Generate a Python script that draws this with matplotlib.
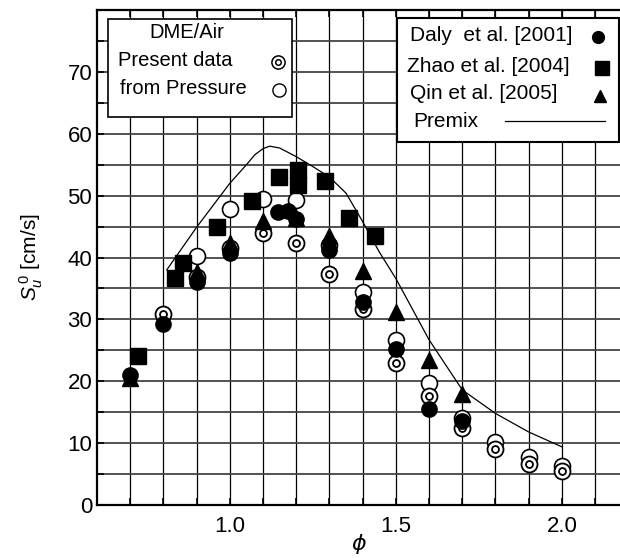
import matplotlib.pyplot as plt
from matplotlib.patches import Rectangle
from matplotlib.lines import Line2D

plt.rcParams['font.family'] = ['Liberation Sans', 'DejaVu Sans']
plt.rcParams['mathtext.fontset'] = 'custom'
plt.rcParams['mathtext.rm'] = 'Liberation Sans'
plt.rcParams['mathtext.it'] = 'Liberation Sans:italic'

# DME/Air, present data (double circle)
phi_present = [0.8, 0.9, 1.0, 1.1, 1.2, 1.3, 1.4, 1.5, 1.6, 1.7, 1.8, 1.9, 2.0]
su_present = [30.8, 36.9, 41.5, 44.0, 42.3, 37.4, 31.6, 22.9, 17.6, 12.4, 9.0, 6.6, 5.5]

# from pressure (open circle)
phi_pressure = [0.9, 1.0, 1.1, 1.2, 1.3, 1.4, 1.5, 1.6, 1.7, 1.8, 1.9, 2.0]
su_pressure = [40.3, 47.9, 49.5, 49.3, 42.0, 34.5, 26.7, 19.7, 14.1, 10.2, 7.7, 6.3]

# Daly et al. [2001]
phi_daly = [0.7, 0.8, 0.9, 1.0, 1.145, 1.175, 1.2, 1.3, 1.4, 1.5, 1.6, 1.7]
su_daly = [21.0, 29.3, 36.1, 40.7, 47.4, 47.5, 46.3, 41.2, 32.8, 25.2, 15.5, 13.5]

# Zhao et al. [2004]
phi_zhao = [0.722, 0.835, 0.858, 0.96, 1.066, 1.148, 1.204, 1.204, 1.287, 1.359, 1.437]
su_zhao = [24.1, 36.7, 39.1, 45.0, 49.1, 53.0, 54.1, 51.7, 52.3, 46.4, 43.5]

# Qin et al. [2005]
phi_qin = [0.7, 0.9, 1.0, 1.1, 1.2, 1.3, 1.4, 1.5, 1.6, 1.7]
su_qin = [20.5, 37.7, 42.3, 45.9, 46.4, 43.4, 37.8, 31.2, 23.4, 17.9]

# Premix calculation
phi_premix = [0.81, 0.9, 1.0, 1.05, 1.075, 1.1, 1.12, 1.15, 1.2, 1.25, 1.3, 1.35, 1.4,
              1.45, 1.5, 1.6, 1.7, 1.8, 1.9, 2.0]
su_premix = [38.0, 44.9, 52.0, 55.0, 56.6, 57.6, 58.0, 57.7, 56.3, 54.7, 53.0, 50.4, 45.8,
             40.9, 36.6, 26.7, 18.6, 14.8, 11.8, 9.4]

fig = plt.figure(figsize=(6.2, 5.58), dpi=100)
ax = fig.add_axes([0.1565, 0.095, 0.8435, 0.887])

ax.set_xlim(0.6, 2.175)
ax.set_ylim(0, 80)

# grid
for v in [0.7 + 0.1 * i for i in range(15)]:
    ax.axvline(v, color='black', lw=0.9, zorder=1)
for h in range(5, 80, 5):
    ax.axhline(h, color='#444444', lw=1.3, zorder=1)

ax.plot(phi_premix, su_premix, color='black', lw=0.9, zorder=2)

ax.plot(phi_pressure, su_pressure, 'o', ms=11.5, mfc='white', mec='black', mew=1.2, zorder=3)
ax.plot(phi_present, su_present, 'o', ms=11.5, mfc='white', mec='black', mew=1.3, zorder=3)
ax.plot(phi_present, su_present, 'o', ms=5.0, mfc='white', mec='black', mew=1.3, zorder=3)
ax.plot(phi_qin, su_qin, '^', ms=11.5, color='black', zorder=4)
ax.plot(phi_daly, su_daly, 'o', ms=11, color='black', zorder=5)
ax.plot(phi_zhao, su_zhao, 's', ms=12, color='black', zorder=6)

ax.set_xticks([1.0, 1.5, 2.0])
ax.set_xticklabels(['1.0', '1.5', '2.0'])
ax.set_xticks([0.7 + 0.1 * i for i in range(15)], minor=True)
ax.set_yticks(range(0, 80, 10))
ax.set_yticks(range(5, 80, 10), minor=True)
ax.tick_params(which='both', direction='in', top=True, right=False, length=5, width=1.2,
               labelsize=16)
ax.tick_params(axis='x', pad=8)

for s in ['left', 'bottom', 'top']:
    ax.spines[s].set_linewidth(1.6)
ax.spines['right'].set_visible(False)

ax.set_xlabel(r'$\phi$', fontsize=16, math_fontfamily='dejavusans', labelpad=-4)
ax.set_ylabel(r'$S_u^{\,\mathit{0}}$ [cm/s]', fontsize=15, labelpad=16)

# left legend box
tr = ax.transAxes
ax.add_patch(Rectangle((0.021, 0.784), 0.352, 0.198, transform=tr, facecolor='white',
                       edgecolor='black', lw=1.2, zorder=10))
ax.text(0.172, 0.954, 'DME/Air', transform=tr, ha='center', va='center', fontsize=14.5, zorder=11)
ax.text(0.040, 0.899, 'Present data', transform=tr, ha='left', va='center', fontsize=14.5, zorder=11)
ax.text(0.044, 0.842, 'from Pressure', transform=tr, ha='left', va='center', fontsize=14.5, zorder=11)
for ms in [9.5, 4.0]:
    ax.add_line(Line2D([0.346], [0.895], transform=tr, marker='o', ms=ms, mfc='white',
                       mec='black', mew=1.1, zorder=11))
ax.add_line(Line2D([0.348], [0.838], transform=tr, marker='o', ms=9.5, mfc='white',
                   mec='black', mew=1.0, zorder=11))

# right legend box
ax.add_patch(Rectangle((0.574, 0.733), 0.424, 0.251, transform=tr, facecolor='white',
                       edgecolor='black', lw=1.5, zorder=10, clip_on=False))
ax.text(0.598, 0.949, 'Daly  et al. [2001]', transform=tr, va='center', fontsize=15, zorder=11)
ax.text(0.593, 0.885, 'Zhao et al. [2004]', transform=tr, va='center', fontsize=15, zorder=11)
ax.text(0.598, 0.832, 'Qin et al. [2005]', transform=tr, va='center', fontsize=15, zorder=11)
ax.text(0.604, 0.774, 'Premix', transform=tr, va='center', fontsize=15, zorder=11)
ax.add_line(Line2D([0.958], [0.945], transform=tr, marker='o', ms=8.5, color='black', zorder=11))
ax.add_line(Line2D([0.966], [0.883], transform=tr, marker='s', ms=9.5, color='black', zorder=11))
ax.add_line(Line2D([0.962], [0.826], transform=tr, marker='^', ms=9, color='black', zorder=11))
ax.add_line(Line2D([0.780, 0.971], [0.776, 0.776], transform=tr, color='black', lw=0.9, zorder=11))

fig.savefig('out.png', dpi=100)
